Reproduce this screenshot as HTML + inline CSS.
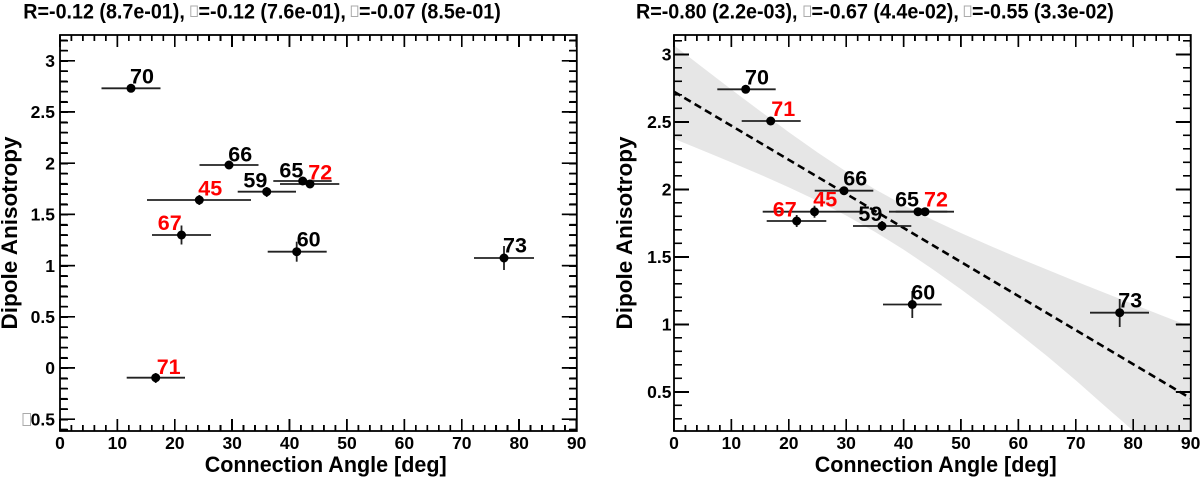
<!DOCTYPE html>
<html>
<head>
<meta charset="utf-8">
<style>
html,body{margin:0;padding:0;background:#fff;}
#wrap{position:relative;width:1200px;height:481px;overflow:hidden;}
svg{display:block;position:absolute;left:0;top:0;}
text{font-family:"Liberation Sans",Arial,Helvetica,sans-serif;font-weight:bold;fill:#000;}
.tl{font-size:17.5px;}
.lb{font-size:21.5px;}
.red{fill:#ff0000;}
.t{position:absolute;}
.hx1{background:repeating-linear-gradient(to right,#000 0px,#000 1.5px,rgba(0,0,0,0) 1.5px,rgba(0,0,0,0) 11.48px);}
.hx2{background:repeating-linear-gradient(to right,#000 0px,#000 1.5px,rgba(0,0,0,0) 1.5px,rgba(0,0,0,0) 57.4px);}
.rx1{background:repeating-linear-gradient(to right,#000 0px,#000 1.5px,rgba(0,0,0,0) 1.5px,rgba(0,0,0,0) 11.488px);}
.rx2{background:repeating-linear-gradient(to right,#000 0px,#000 1.5px,rgba(0,0,0,0) 1.5px,rgba(0,0,0,0) 57.44px);}
.ly1{background:repeating-linear-gradient(to bottom,#000 0px,#000 1.5px,rgba(0,0,0,0) 1.5px,rgba(0,0,0,0) 10.24px);}
.ly2{background:repeating-linear-gradient(to bottom,#000 0px,#000 1.5px,rgba(0,0,0,0) 1.5px,rgba(0,0,0,0) 51.2px);}
.ry1{background:repeating-linear-gradient(to bottom,#000 0px,#000 1.5px,rgba(0,0,0,0) 1.5px,rgba(0,0,0,0) 13.5px);}
.ry2{background:repeating-linear-gradient(to bottom,#000 0px,#000 1.5px,rgba(0,0,0,0) 1.5px,rgba(0,0,0,0) 67.5px);}
</style>
</head>
<body>
<div id="wrap">
<svg width="1200" height="481" viewBox="0 0 1200 481" xmlns="http://www.w3.org/2000/svg">
<defs>
<clipPath id="cr"><rect x="674" y="35" width="516.8" height="396"/></clipPath>
</defs>

<!-- Titles -->
<g font-size="21.5">
<text x="23.3" y="18.5" textLength="161.5" lengthAdjust="spacingAndGlyphs">R=-0.12 (8.7e-01),</text>
<rect x="190.8" y="6" width="6.5" height="10.5" fill="#fff" stroke="#aaa" stroke-width="1"/>
<text x="198.5" y="18.5" textLength="147.3" lengthAdjust="spacingAndGlyphs">=-0.12 (7.6e-01),</text>
<rect x="351.3" y="6" width="6.5" height="10.5" fill="#fff" stroke="#aaa" stroke-width="1"/>
<text x="359" y="18.5" textLength="141.8" lengthAdjust="spacingAndGlyphs">=-0.07 (8.5e-01)</text>

<text x="636" y="18.5" textLength="161.5" lengthAdjust="spacingAndGlyphs">R=-0.80 (2.2e-03),</text>
<rect x="804" y="6" width="6.5" height="10.5" fill="#fff" stroke="#aaa" stroke-width="1"/>
<text x="811.5" y="18.5" textLength="147.3" lengthAdjust="spacingAndGlyphs">=-0.67 (4.4e-02),</text>
<rect x="964.3" y="6" width="6.5" height="10.5" fill="#fff" stroke="#aaa" stroke-width="1"/>
<text x="972" y="18.5" textLength="141.8" lengthAdjust="spacingAndGlyphs">=-0.55 (3.3e-02)</text>
</g>

<!-- ===== Right plot band and fit ===== -->
<g clip-path="url(#cr)">
<polygon fill="#e6e6e6" points="674,45.4 702.7,67.5 731.4,89.5 760.2,111.1 788.9,132.2 817.6,152.5 846.3,171.6 875,189.2 903.8,205.2 932.5,219.7 961.2,233.1 989.9,245.8 1018.6,258 1047.4,269.8 1076.1,281.5 1104.8,292.9 1133.5,304.3 1162.2,315.6 1191,326.8 1191,480 1162.2,456 1133.5,431 1104.8,406 1076.1,380.6 1047.4,356.4 1018.6,333.4 989.9,310.7 961.2,289.5 932.5,269.1 903.8,249.7 875,231.9 846.3,215.6 817.6,200.9 788.9,187.4 760.2,174.6 731.4,162.4 702.7,150.5 674,138.8"/>
<line x1="674" y1="91.7" x2="1191" y2="398.5" stroke="#000" stroke-width="2.6" stroke-dasharray="7.5 4.5"/>
</g>

<!-- ===== Tick rects ===== -->
<g fill="#000">
<!-- left x minor bottom -->
<rect x="70.68" y="425" width="1.6" height="6"/><rect x="82.16" y="425" width="1.6" height="6"/><rect x="93.64" y="425" width="1.6" height="6"/><rect x="105.12" y="425" width="1.6" height="6"/>
<rect x="128.08" y="425" width="1.6" height="6"/><rect x="139.56" y="425" width="1.6" height="6"/><rect x="151.04" y="425" width="1.6" height="6"/><rect x="162.52" y="425" width="1.6" height="6"/>
<rect x="185.48" y="425" width="1.6" height="6"/><rect x="196.96" y="425" width="1.6" height="6"/><rect x="208.44" y="425" width="1.6" height="6"/><rect x="219.92" y="425" width="1.6" height="6"/>
<rect x="242.88" y="425" width="1.6" height="6"/><rect x="254.36" y="425" width="1.6" height="6"/><rect x="265.84" y="425" width="1.6" height="6"/><rect x="277.32" y="425" width="1.6" height="6"/>
<rect x="300.28" y="425" width="1.6" height="6"/><rect x="311.76" y="425" width="1.6" height="6"/><rect x="323.24" y="425" width="1.6" height="6"/><rect x="334.72" y="425" width="1.6" height="6"/>
<rect x="357.68" y="425" width="1.6" height="6"/><rect x="369.16" y="425" width="1.6" height="6"/><rect x="380.64" y="425" width="1.6" height="6"/><rect x="392.12" y="425" width="1.6" height="6"/>
<rect x="415.08" y="425" width="1.6" height="6"/><rect x="426.56" y="425" width="1.6" height="6"/><rect x="438.04" y="425" width="1.6" height="6"/><rect x="449.52" y="425" width="1.6" height="6"/>
<rect x="472.48" y="425" width="1.6" height="6"/><rect x="483.96" y="425" width="1.6" height="6"/><rect x="495.44" y="425" width="1.6" height="6"/><rect x="506.92" y="425" width="1.6" height="6"/>
<rect x="529.88" y="425" width="1.6" height="6"/><rect x="541.36" y="425" width="1.6" height="6"/><rect x="552.84" y="425" width="1.6" height="6"/><rect x="564.32" y="425" width="1.6" height="6"/>
<!-- left x minor top -->
<rect x="70.68" y="35" width="1.6" height="6"/><rect x="82.16" y="35" width="1.6" height="6"/><rect x="93.64" y="35" width="1.6" height="6"/><rect x="105.12" y="35" width="1.6" height="6"/>
<rect x="128.08" y="35" width="1.6" height="6"/><rect x="139.56" y="35" width="1.6" height="6"/><rect x="151.04" y="35" width="1.6" height="6"/><rect x="162.52" y="35" width="1.6" height="6"/>
<rect x="185.48" y="35" width="1.6" height="6"/><rect x="196.96" y="35" width="1.6" height="6"/><rect x="208.44" y="35" width="1.6" height="6"/><rect x="219.92" y="35" width="1.6" height="6"/>
<rect x="242.88" y="35" width="1.6" height="6"/><rect x="254.36" y="35" width="1.6" height="6"/><rect x="265.84" y="35" width="1.6" height="6"/><rect x="277.32" y="35" width="1.6" height="6"/>
<rect x="300.28" y="35" width="1.6" height="6"/><rect x="311.76" y="35" width="1.6" height="6"/><rect x="323.24" y="35" width="1.6" height="6"/><rect x="334.72" y="35" width="1.6" height="6"/>
<rect x="357.68" y="35" width="1.6" height="6"/><rect x="369.16" y="35" width="1.6" height="6"/><rect x="380.64" y="35" width="1.6" height="6"/><rect x="392.12" y="35" width="1.6" height="6"/>
<rect x="415.08" y="35" width="1.6" height="6"/><rect x="426.56" y="35" width="1.6" height="6"/><rect x="438.04" y="35" width="1.6" height="6"/><rect x="449.52" y="35" width="1.6" height="6"/>
<rect x="472.48" y="35" width="1.6" height="6"/><rect x="483.96" y="35" width="1.6" height="6"/><rect x="495.44" y="35" width="1.6" height="6"/><rect x="506.92" y="35" width="1.6" height="6"/>
<rect x="529.88" y="35" width="1.6" height="6"/><rect x="541.36" y="35" width="1.6" height="6"/><rect x="552.84" y="35" width="1.6" height="6"/><rect x="564.32" y="35" width="1.6" height="6"/>
<!-- left x major -->
<rect x="59.2" y="419" width="1.6" height="12"/><rect x="116.6" y="419" width="1.6" height="12"/><rect x="174" y="419" width="1.6" height="12"/><rect x="231.4" y="419" width="1.6" height="12"/><rect x="288.8" y="419" width="1.6" height="12"/>
<rect x="346.2" y="419" width="1.6" height="12"/><rect x="403.6" y="419" width="1.6" height="12"/><rect x="461" y="419" width="1.6" height="12"/><rect x="518.4" y="419" width="1.6" height="12"/><rect x="575.8" y="419" width="1.6" height="12"/>
<rect x="59.2" y="35" width="1.6" height="12"/><rect x="116.6" y="35" width="1.6" height="12"/><rect x="174" y="35" width="1.6" height="12"/><rect x="231.4" y="35" width="1.6" height="12"/><rect x="288.8" y="35" width="1.6" height="12"/>
<rect x="346.2" y="35" width="1.6" height="12"/><rect x="403.6" y="35" width="1.6" height="12"/><rect x="461" y="35" width="1.6" height="12"/><rect x="518.4" y="35" width="1.6" height="12"/><rect x="575.8" y="35" width="1.6" height="12"/>

<!-- right x minor bottom -->
<rect x="684.68" y="425" width="1.6" height="6"/><rect x="696.16" y="425" width="1.6" height="6"/><rect x="707.64" y="425" width="1.6" height="6"/><rect x="719.12" y="425" width="1.6" height="6"/>
<rect x="742.08" y="425" width="1.6" height="6"/><rect x="753.56" y="425" width="1.6" height="6"/><rect x="765.04" y="425" width="1.6" height="6"/><rect x="776.52" y="425" width="1.6" height="6"/>
<rect x="799.48" y="425" width="1.6" height="6"/><rect x="810.96" y="425" width="1.6" height="6"/><rect x="822.44" y="425" width="1.6" height="6"/><rect x="833.92" y="425" width="1.6" height="6"/>
<rect x="856.88" y="425" width="1.6" height="6"/><rect x="868.36" y="425" width="1.6" height="6"/><rect x="879.84" y="425" width="1.6" height="6"/><rect x="891.32" y="425" width="1.6" height="6"/>
<rect x="914.28" y="425" width="1.6" height="6"/><rect x="925.76" y="425" width="1.6" height="6"/><rect x="937.24" y="425" width="1.6" height="6"/><rect x="948.72" y="425" width="1.6" height="6"/>
<rect x="971.68" y="425" width="1.6" height="6"/><rect x="983.16" y="425" width="1.6" height="6"/><rect x="994.64" y="425" width="1.6" height="6"/><rect x="1006.12" y="425" width="1.6" height="6"/>
<rect x="1029.08" y="425" width="1.6" height="6"/><rect x="1040.56" y="425" width="1.6" height="6"/><rect x="1052.04" y="425" width="1.6" height="6"/><rect x="1063.52" y="425" width="1.6" height="6"/>
<rect x="1086.48" y="425" width="1.6" height="6"/><rect x="1097.96" y="425" width="1.6" height="6"/><rect x="1109.44" y="425" width="1.6" height="6"/><rect x="1120.92" y="425" width="1.6" height="6"/>
<rect x="1143.88" y="425" width="1.6" height="6"/><rect x="1155.36" y="425" width="1.6" height="6"/><rect x="1166.84" y="425" width="1.6" height="6"/><rect x="1178.32" y="425" width="1.6" height="6"/>
<!-- right x minor top -->
<rect x="684.68" y="35" width="1.6" height="6"/><rect x="696.16" y="35" width="1.6" height="6"/><rect x="707.64" y="35" width="1.6" height="6"/><rect x="719.12" y="35" width="1.6" height="6"/>
<rect x="742.08" y="35" width="1.6" height="6"/><rect x="753.56" y="35" width="1.6" height="6"/><rect x="765.04" y="35" width="1.6" height="6"/><rect x="776.52" y="35" width="1.6" height="6"/>
<rect x="799.48" y="35" width="1.6" height="6"/><rect x="810.96" y="35" width="1.6" height="6"/><rect x="822.44" y="35" width="1.6" height="6"/><rect x="833.92" y="35" width="1.6" height="6"/>
<rect x="856.88" y="35" width="1.6" height="6"/><rect x="868.36" y="35" width="1.6" height="6"/><rect x="879.84" y="35" width="1.6" height="6"/><rect x="891.32" y="35" width="1.6" height="6"/>
<rect x="914.28" y="35" width="1.6" height="6"/><rect x="925.76" y="35" width="1.6" height="6"/><rect x="937.24" y="35" width="1.6" height="6"/><rect x="948.72" y="35" width="1.6" height="6"/>
<rect x="971.68" y="35" width="1.6" height="6"/><rect x="983.16" y="35" width="1.6" height="6"/><rect x="994.64" y="35" width="1.6" height="6"/><rect x="1006.12" y="35" width="1.6" height="6"/>
<rect x="1029.08" y="35" width="1.6" height="6"/><rect x="1040.56" y="35" width="1.6" height="6"/><rect x="1052.04" y="35" width="1.6" height="6"/><rect x="1063.52" y="35" width="1.6" height="6"/>
<rect x="1086.48" y="35" width="1.6" height="6"/><rect x="1097.96" y="35" width="1.6" height="6"/><rect x="1109.44" y="35" width="1.6" height="6"/><rect x="1120.92" y="35" width="1.6" height="6"/>
<rect x="1143.88" y="35" width="1.6" height="6"/><rect x="1155.36" y="35" width="1.6" height="6"/><rect x="1166.84" y="35" width="1.6" height="6"/><rect x="1178.32" y="35" width="1.6" height="6"/>
<!-- right x major -->
<rect x="673.2" y="419" width="1.6" height="12"/><rect x="730.6" y="419" width="1.6" height="12"/><rect x="788" y="419" width="1.6" height="12"/><rect x="845.4" y="419" width="1.6" height="12"/><rect x="902.8" y="419" width="1.6" height="12"/>
<rect x="960.2" y="419" width="1.6" height="12"/><rect x="1017.6" y="419" width="1.6" height="12"/><rect x="1075" y="419" width="1.6" height="12"/><rect x="1132.4" y="419" width="1.6" height="12"/><rect x="1189.8" y="419" width="1.6" height="12"/>
<rect x="673.2" y="35" width="1.6" height="12"/><rect x="730.6" y="35" width="1.6" height="12"/><rect x="788" y="35" width="1.6" height="12"/><rect x="845.4" y="35" width="1.6" height="12"/><rect x="902.8" y="35" width="1.6" height="12"/>
<rect x="960.2" y="35" width="1.6" height="12"/><rect x="1017.6" y="35" width="1.6" height="12"/><rect x="1075" y="35" width="1.6" height="12"/><rect x="1132.4" y="35" width="1.6" height="12"/><rect x="1189.8" y="35" width="1.6" height="12"/>

<!-- left y minor (both sides) -->
<rect x="60" y="39.52" width="7.5" height="1.6"/><rect x="60" y="49.76" width="7.5" height="1.6"/><rect x="60" y="70.24" width="7.5" height="1.6"/><rect x="60" y="80.48" width="7.5" height="1.6"/><rect x="60" y="90.72" width="7.5" height="1.6"/><rect x="60" y="100.96" width="7.5" height="1.6"/>
<rect x="60" y="121.44" width="7.5" height="1.6"/><rect x="60" y="131.68" width="7.5" height="1.6"/><rect x="60" y="141.92" width="7.5" height="1.6"/><rect x="60" y="152.16" width="7.5" height="1.6"/>
<rect x="60" y="172.64" width="7.5" height="1.6"/><rect x="60" y="182.88" width="7.5" height="1.6"/><rect x="60" y="193.12" width="7.5" height="1.6"/><rect x="60" y="203.36" width="7.5" height="1.6"/>
<rect x="60" y="223.84" width="7.5" height="1.6"/><rect x="60" y="234.08" width="7.5" height="1.6"/><rect x="60" y="244.32" width="7.5" height="1.6"/><rect x="60" y="254.56" width="7.5" height="1.6"/>
<rect x="60" y="275.04" width="7.5" height="1.6"/><rect x="60" y="285.28" width="7.5" height="1.6"/><rect x="60" y="295.52" width="7.5" height="1.6"/><rect x="60" y="305.76" width="7.5" height="1.6"/>
<rect x="60" y="326.24" width="7.5" height="1.6"/><rect x="60" y="336.48" width="7.5" height="1.6"/><rect x="60" y="346.72" width="7.5" height="1.6"/><rect x="60" y="356.96" width="7.5" height="1.6"/>
<rect x="60" y="377.44" width="7.5" height="1.6"/><rect x="60" y="387.68" width="7.5" height="1.6"/><rect x="60" y="397.92" width="7.5" height="1.6"/><rect x="60" y="408.16" width="7.5" height="1.6"/><rect x="60" y="428.64" width="7.5" height="1.6"/>
<rect x="569.3" y="39.52" width="7.5" height="1.6"/><rect x="569.3" y="49.76" width="7.5" height="1.6"/><rect x="569.3" y="70.24" width="7.5" height="1.6"/><rect x="569.3" y="80.48" width="7.5" height="1.6"/><rect x="569.3" y="90.72" width="7.5" height="1.6"/><rect x="569.3" y="100.96" width="7.5" height="1.6"/>
<rect x="569.3" y="121.44" width="7.5" height="1.6"/><rect x="569.3" y="131.68" width="7.5" height="1.6"/><rect x="569.3" y="141.92" width="7.5" height="1.6"/><rect x="569.3" y="152.16" width="7.5" height="1.6"/>
<rect x="569.3" y="172.64" width="7.5" height="1.6"/><rect x="569.3" y="182.88" width="7.5" height="1.6"/><rect x="569.3" y="193.12" width="7.5" height="1.6"/><rect x="569.3" y="203.36" width="7.5" height="1.6"/>
<rect x="569.3" y="223.84" width="7.5" height="1.6"/><rect x="569.3" y="234.08" width="7.5" height="1.6"/><rect x="569.3" y="244.32" width="7.5" height="1.6"/><rect x="569.3" y="254.56" width="7.5" height="1.6"/>
<rect x="569.3" y="275.04" width="7.5" height="1.6"/><rect x="569.3" y="285.28" width="7.5" height="1.6"/><rect x="569.3" y="295.52" width="7.5" height="1.6"/><rect x="569.3" y="305.76" width="7.5" height="1.6"/>
<rect x="569.3" y="326.24" width="7.5" height="1.6"/><rect x="569.3" y="336.48" width="7.5" height="1.6"/><rect x="569.3" y="346.72" width="7.5" height="1.6"/><rect x="569.3" y="356.96" width="7.5" height="1.6"/>
<rect x="569.3" y="377.44" width="7.5" height="1.6"/><rect x="569.3" y="387.68" width="7.5" height="1.6"/><rect x="569.3" y="397.92" width="7.5" height="1.6"/><rect x="569.3" y="408.16" width="7.5" height="1.6"/><rect x="569.3" y="428.64" width="7.5" height="1.6"/>
<!-- left y major -->
<rect x="60" y="60" width="15" height="1.6"/><rect x="60" y="111.2" width="15" height="1.6"/><rect x="60" y="162.4" width="15" height="1.6"/><rect x="60" y="213.6" width="15" height="1.6"/>
<rect x="60" y="264.8" width="15" height="1.6"/><rect x="60" y="316" width="15" height="1.6"/><rect x="60" y="367.2" width="15" height="1.6"/><rect x="60" y="418.4" width="15" height="1.6"/>
<rect x="561.8" y="60" width="15" height="1.6"/><rect x="561.8" y="111.2" width="15" height="1.6"/><rect x="561.8" y="162.4" width="15" height="1.6"/><rect x="561.8" y="213.6" width="15" height="1.6"/>
<rect x="561.8" y="264.8" width="15" height="1.6"/><rect x="561.8" y="316" width="15" height="1.6"/><rect x="561.8" y="367.2" width="15" height="1.6"/><rect x="561.8" y="418.4" width="15" height="1.6"/>

<!-- right y minor (both sides) -->
<rect x="674" y="40" width="7.5" height="1.6"/><rect x="674" y="67" width="7.5" height="1.6"/><rect x="674" y="80.5" width="7.5" height="1.6"/><rect x="674" y="94" width="7.5" height="1.6"/><rect x="674" y="107.5" width="7.5" height="1.6"/>
<rect x="674" y="134.5" width="7.5" height="1.6"/><rect x="674" y="148" width="7.5" height="1.6"/><rect x="674" y="161.5" width="7.5" height="1.6"/><rect x="674" y="175" width="7.5" height="1.6"/>
<rect x="674" y="202" width="7.5" height="1.6"/><rect x="674" y="215.5" width="7.5" height="1.6"/><rect x="674" y="229" width="7.5" height="1.6"/><rect x="674" y="242.5" width="7.5" height="1.6"/>
<rect x="674" y="269.5" width="7.5" height="1.6"/><rect x="674" y="283" width="7.5" height="1.6"/><rect x="674" y="296.5" width="7.5" height="1.6"/><rect x="674" y="310" width="7.5" height="1.6"/>
<rect x="674" y="337" width="7.5" height="1.6"/><rect x="674" y="350.5" width="7.5" height="1.6"/><rect x="674" y="364" width="7.5" height="1.6"/><rect x="674" y="377.5" width="7.5" height="1.6"/>
<rect x="674" y="404.5" width="7.5" height="1.6"/><rect x="674" y="418" width="7.5" height="1.6"/>
<rect x="1183.3" y="40" width="7.5" height="1.6"/><rect x="1183.3" y="67" width="7.5" height="1.6"/><rect x="1183.3" y="80.5" width="7.5" height="1.6"/><rect x="1183.3" y="94" width="7.5" height="1.6"/><rect x="1183.3" y="107.5" width="7.5" height="1.6"/>
<rect x="1183.3" y="134.5" width="7.5" height="1.6"/><rect x="1183.3" y="148" width="7.5" height="1.6"/><rect x="1183.3" y="161.5" width="7.5" height="1.6"/><rect x="1183.3" y="175" width="7.5" height="1.6"/>
<rect x="1183.3" y="202" width="7.5" height="1.6"/><rect x="1183.3" y="215.5" width="7.5" height="1.6"/><rect x="1183.3" y="229" width="7.5" height="1.6"/><rect x="1183.3" y="242.5" width="7.5" height="1.6"/>
<rect x="1183.3" y="269.5" width="7.5" height="1.6"/><rect x="1183.3" y="283" width="7.5" height="1.6"/><rect x="1183.3" y="296.5" width="7.5" height="1.6"/><rect x="1183.3" y="310" width="7.5" height="1.6"/>
<rect x="1183.3" y="337" width="7.5" height="1.6"/><rect x="1183.3" y="350.5" width="7.5" height="1.6"/><rect x="1183.3" y="364" width="7.5" height="1.6"/><rect x="1183.3" y="377.5" width="7.5" height="1.6"/>
<rect x="1183.3" y="404.5" width="7.5" height="1.6"/><rect x="1183.3" y="418" width="7.5" height="1.6"/>
<!-- right y major -->
<rect x="674" y="53.5" width="15" height="1.6"/><rect x="674" y="121" width="15" height="1.6"/><rect x="674" y="188.5" width="15" height="1.6"/><rect x="674" y="256" width="15" height="1.6"/><rect x="674" y="323.5" width="15" height="1.6"/><rect x="674" y="391" width="15" height="1.6"/>
<rect x="1175.8" y="53.5" width="15" height="1.6"/><rect x="1175.8" y="121" width="15" height="1.6"/><rect x="1175.8" y="188.5" width="15" height="1.6"/><rect x="1175.8" y="256" width="15" height="1.6"/><rect x="1175.8" y="323.5" width="15" height="1.6"/><rect x="1175.8" y="391" width="15" height="1.6"/>
</g>

<!-- ===== Left plot data ===== -->
<g stroke="#222" stroke-width="1.8">
<line x1="101.5" y1="88.3" x2="160.5" y2="88.3"/><line x1="131" y1="86.3" x2="131" y2="90.3"/>
<line x1="126.7" y1="377.7" x2="185" y2="377.7"/><line x1="155.7" y1="373" x2="155.7" y2="383"/>
<line x1="152" y1="235" x2="211" y2="235"/><line x1="181.5" y1="225.5" x2="181.5" y2="244.5"/>
<line x1="147" y1="200" x2="251" y2="200"/><line x1="199.3" y1="195" x2="199.3" y2="205"/>
<line x1="199.5" y1="165" x2="258.5" y2="165"/>
<line x1="237.7" y1="191.7" x2="296" y2="191.7"/><line x1="266.7" y1="187" x2="266.7" y2="197"/>
<line x1="273.3" y1="181" x2="331.7" y2="181"/>
<line x1="280" y1="184" x2="339.3" y2="184"/>
<line x1="267.7" y1="251.7" x2="326.7" y2="251.7"/><line x1="296.7" y1="241.7" x2="296.7" y2="261.7"/>
<line x1="474" y1="258" x2="534" y2="258"/><line x1="504" y1="246" x2="504" y2="270"/>
</g>
<g fill="#000">
<circle cx="131" cy="88.3" r="4.5"/>
<circle cx="155.7" cy="377.7" r="4.5"/>
<circle cx="181.5" cy="235" r="4.5"/>
<circle cx="199.3" cy="200" r="4.5"/>
<circle cx="229" cy="165" r="4.5"/>
<circle cx="266.7" cy="191.7" r="4.5"/>
<circle cx="302.7" cy="181" r="4.5"/>
<circle cx="310" cy="184" r="4.5"/>
<circle cx="296.7" cy="251.7" r="4.5"/>
<circle cx="504" cy="258" r="4.5"/>
</g>
<g>
<text class="lb" x="130" y="83.5">70</text>
<text class="lb red" x="156.7" y="374">71</text>
<text class="lb red" x="181.7" y="230" text-anchor="end">67</text>
<text class="lb red" x="198.3" y="195.7">45</text>
<text class="lb" x="228.3" y="161.7">66</text>
<text class="lb" x="267.3" y="187.7" text-anchor="end">59</text>
<text class="lb" x="303.3" y="177.3" text-anchor="end">65</text>
<text class="lb red" x="308.3" y="179.3">72</text>
<text class="lb" x="296.7" y="246.7">60</text>
<text class="lb" x="503" y="252.5">73</text>
</g>

<!-- ===== Right plot data ===== -->
<g stroke="#222" stroke-width="1.8">
<line x1="717.3" y1="89.3" x2="775.7" y2="89.3"/>
<line x1="741.7" y1="121" x2="800.7" y2="121"/>
<line x1="766.7" y1="221" x2="826.3" y2="221"/><line x1="796.7" y1="215" x2="796.7" y2="227"/>
<line x1="762.7" y1="211.7" x2="866.3" y2="211.7"/><line x1="814.5" y1="205.7" x2="814.5" y2="217.7"/>
<line x1="814.7" y1="190.7" x2="873.3" y2="190.7"/>
<line x1="853" y1="226" x2="911.3" y2="226"/><line x1="882" y1="221" x2="882" y2="231"/>
<line x1="889" y1="211.7" x2="947.3" y2="211.7"/>
<line x1="895.7" y1="211.7" x2="954" y2="211.7"/>
<line x1="883" y1="304.5" x2="941.7" y2="304.5"/><line x1="912.3" y1="291" x2="912.3" y2="318"/>
<line x1="1090" y1="312.7" x2="1149" y2="312.7"/><line x1="1119.7" y1="299" x2="1119.7" y2="327"/>
</g>
<g fill="#000">
<circle cx="745.7" cy="89.3" r="4.5"/>
<circle cx="770.7" cy="121" r="4.5"/>
<circle cx="796.7" cy="221" r="4.5"/>
<circle cx="814.5" cy="211.7" r="4.5"/>
<circle cx="844" cy="190.7" r="4.5"/>
<circle cx="882" cy="226" r="4.5"/>
<circle cx="918" cy="211.7" r="4.5"/>
<circle cx="925" cy="211.7" r="4.5"/>
<circle cx="912.3" cy="304.5" r="4.5"/>
<circle cx="1119.7" cy="312.7" r="4.5"/>
</g>
<g>
<text class="lb" x="745" y="84.3">70</text>
<text class="lb red" x="771.3" y="116">71</text>
<text class="lb red" x="796.7" y="216.7" text-anchor="end">67</text>
<text class="lb red" x="813.3" y="206.7">45</text>
<text class="lb" x="843.3" y="185.7">66</text>
<text class="lb" x="882.3" y="221" text-anchor="end">59</text>
<text class="lb" x="919" y="206.7" text-anchor="end">65</text>
<text class="lb red" x="924" y="206.7">72</text>
<text class="lb" x="911.3" y="299.3">60</text>
<text class="lb" x="1118.3" y="307.3">73</text>
</g>

<!-- ===== Frames ===== -->
<rect x="60" y="35" width="516.8" height="396" fill="none" stroke="#000" stroke-width="1.8"/>
<rect x="674" y="35" width="516.8" height="396" fill="none" stroke="#000" stroke-width="1.8"/>

<!-- ===== Tick labels left ===== -->
<g text-anchor="end">
<text class="tl" x="55" y="67">3</text>
<text class="tl" x="55" y="118.2">2.5</text>
<text class="tl" x="55" y="169.4">2</text>
<text class="tl" x="55" y="220.6">1.5</text>
<text class="tl" x="55" y="271.8">1</text>
<text class="tl" x="55" y="323">0.5</text>
<text class="tl" x="55" y="374.2">0</text>
<text class="tl" x="55" y="425.4">0.5</text>
</g>
<rect x="23" y="413.5" width="7.5" height="12" fill="#fff" stroke="#aaa" stroke-width="1"/>
<g text-anchor="middle">
<text class="tl" x="60" y="449">0</text>
<text class="tl" x="117.4" y="449">10</text>
<text class="tl" x="174.8" y="449">20</text>
<text class="tl" x="232.2" y="449">30</text>
<text class="tl" x="289.6" y="449">40</text>
<text class="tl" x="347" y="449">50</text>
<text class="tl" x="404.4" y="449">60</text>
<text class="tl" x="461.8" y="449">70</text>
<text class="tl" x="519.2" y="449">80</text>
<text class="tl" x="576.6" y="449">90</text>
</g>

<!-- ===== Tick labels right ===== -->
<g text-anchor="end">
<text class="tl" x="671.5" y="60.5">3</text>
<text class="tl" x="671.5" y="128">2.5</text>
<text class="tl" x="671.5" y="195.5">2</text>
<text class="tl" x="671.5" y="263">1.5</text>
<text class="tl" x="671.5" y="330.5">1</text>
<text class="tl" x="671.5" y="398">0.5</text>
</g>
<g text-anchor="middle">
<text class="tl" x="674" y="449">0</text>
<text class="tl" x="731.4" y="449">10</text>
<text class="tl" x="788.8" y="449">20</text>
<text class="tl" x="846.2" y="449">30</text>
<text class="tl" x="903.6" y="449">40</text>
<text class="tl" x="961" y="449">50</text>
<text class="tl" x="1018.4" y="449">60</text>
<text class="tl" x="1075.8" y="449">70</text>
<text class="tl" x="1133.2" y="449">80</text>
<text class="tl" x="1190.6" y="449">90</text>
</g>

<!-- ===== Axis titles ===== -->
<text x="204.7" y="472" font-size="22.5" textLength="242" lengthAdjust="spacingAndGlyphs">Connection Angle [deg]</text>
<text x="814.7" y="472" font-size="22.5" textLength="242" lengthAdjust="spacingAndGlyphs">Connection Angle [deg]</text>
<text transform="translate(17,233) rotate(-90)" x="-96.5" y="0" font-size="22.5" textLength="193" lengthAdjust="spacingAndGlyphs">Dipole Anisotropy</text>
<text transform="translate(632,233) rotate(-90)" x="-96.5" y="0" font-size="22.5" textLength="193" lengthAdjust="spacingAndGlyphs">Dipole Anisotropy</text>
</svg>

<!-- ===== Tick marks (HTML) ===== -->
<div class="t hx1" style="left:59.25px;top:425px;width:519px;height:6px"></div>
<div class="t hx2" style="left:59.25px;top:419px;width:519px;height:12px"></div>
<div class="t hx1" style="left:59.25px;top:35px;width:519px;height:6px"></div>
<div class="t hx2" style="left:59.25px;top:35px;width:519px;height:12px"></div>
<div class="t ly1" style="left:60px;top:39.57px;width:7.5px;height:391.43px"></div>
<div class="t ly2" style="left:60px;top:60.05px;width:15px;height:370.95px"></div>
<div class="t ly1" style="left:569.3px;top:39.57px;width:7.5px;height:391.43px"></div>
<div class="t ly2" style="left:561.8px;top:60.05px;width:15px;height:370.95px"></div>
<div class="t rx1" style="left:673.25px;top:425px;width:519px;height:6px"></div>
<div class="t rx2" style="left:673.25px;top:419px;width:519px;height:12px"></div>
<div class="t rx1" style="left:673.25px;top:35px;width:519px;height:6px"></div>
<div class="t rx2" style="left:673.25px;top:35px;width:519px;height:12px"></div>
<div class="t ry1" style="left:674px;top:40.05px;width:7.5px;height:390.95px"></div>
<div class="t ry2" style="left:674px;top:53.55px;width:15px;height:377.45px"></div>
<div class="t ry1" style="left:1183.3px;top:40.05px;width:7.5px;height:390.95px"></div>
<div class="t ry2" style="left:1175.8px;top:53.55px;width:15px;height:377.45px"></div>
</div>
</body>
</html>
